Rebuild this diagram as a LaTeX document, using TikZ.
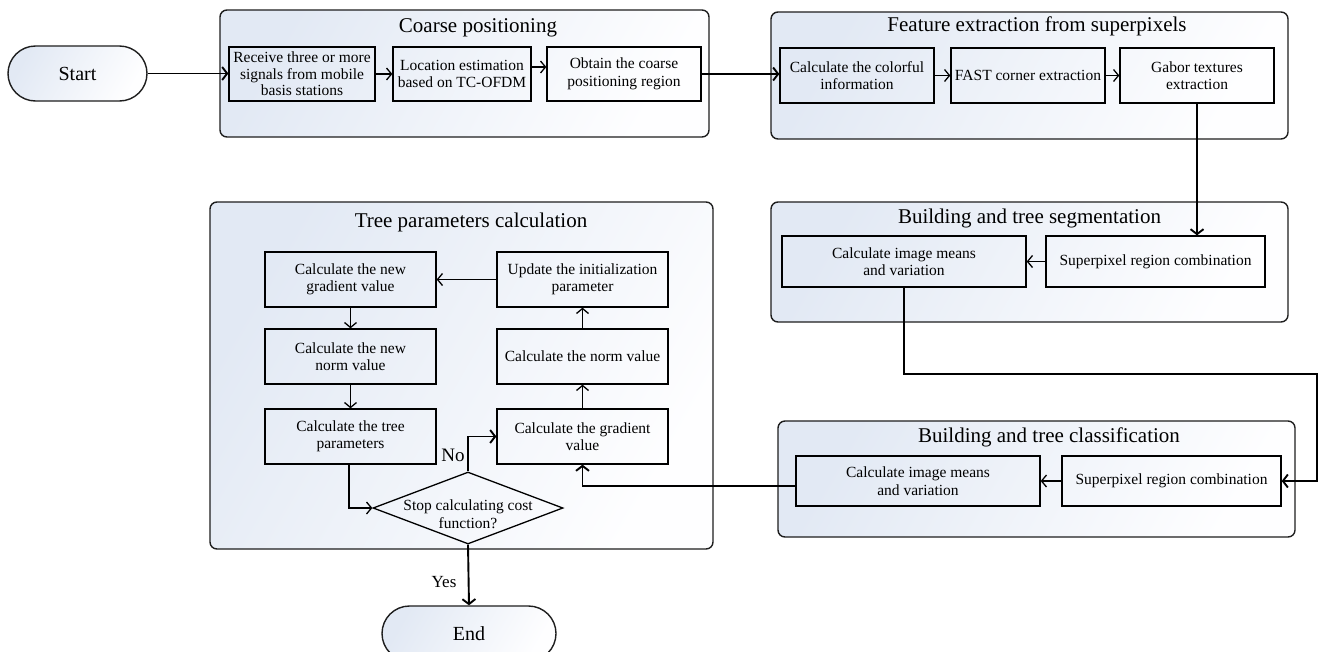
\documentclass[tikz,border=0pt]{standalone}
\usepackage{fontspec}
\setmainfont{Liberation Serif}
\usetikzlibrary{arrows.meta,shapes.misc,shapes.geometric}
\definecolor{panelA}{RGB}{226,233,244}
\definecolor{panelB}{RGB}{254,254,255}
\definecolor{edge}{RGB}{30,30,30}
\begin{document}
\begin{tikzpicture}[x=1pt,y=-1pt,
  panel/.style={draw=edge, line width=1.4pt, rounded corners=7pt, rectangle,
    left color=panelA, right color=panelB, shading angle=60, inner sep=0pt},
  stad/.style={draw=edge, line width=1.4pt, rounded rectangle,
    left color=panelA, right color=panelB, shading angle=60, inner sep=0pt,
    font=\fontsize{20pt}{22pt}\selectfont},
  ptitle/.style={anchor=base, font=\fontsize{21pt}{24pt}\selectfont, inner sep=0pt},
  stepbox/.style={draw=black, line width=1.3pt, rectangle, inner sep=1pt, align=center,
    font=\fontsize{15.5pt}{17.5pt}\selectfont},
  thinarr/.style={line width=1.3pt, -{Straight Barb[length=5pt,width=12pt]}},
  thickarr/.style={line width=1.9pt, -{Straight Barb[length=5pt,width=13pt]}},
  lab/.style={inner sep=0pt, font=\fontsize{19pt}{21pt}\selectfont}
]
\path[use as bounding box, fill=white] (0,0) rectangle (1322,651);

% panels
\node[panel, minimum width=489pt, minimum height=127pt] (pcoarse) at (464.5,73.5) {};
\node[panel, minimum width=517pt, minimum height=127pt] (pfeat) at (1029.5,75.5) {};
\node[panel, minimum width=517pt, minimum height=120pt] (pseg) at (1029.5,262) {};
\node[panel, minimum width=517pt, minimum height=116pt] (pclass) at (1036.5,479) {};
\node[panel, minimum width=503pt, minimum height=347pt] (ptree) at (461.5,375.5) {};

\node[ptitle] (tcoarse) at (478,32) {Coarse positioning};
\node[ptitle] (tfeat) at (1037,31) {Feature extraction from superpixels};
\node[ptitle] (tseg) at (1029.5,223) {Building and tree segmentation};
\node[ptitle] (tclass) at (1049,442) {Building and tree classification};
\node[ptitle] (ttree) at (471,227) {Tree parameters calculation};

% terminals
\node[stad, minimum width=139pt, minimum height=55pt] (start) at (77.5,73.5) {Start};
\node[stad, minimum width=174pt, minimum height=55pt] (end) at (469,633.5) {End};

% coarse positioning
\node[stepbox, minimum width=146pt, minimum height=54pt, font=\fontsize{15.5pt}{16.5pt}\selectfont] (recv) at (302,74) {Receive three or more\\signals from mobile\\basis stations};
\node[stepbox, minimum width=138pt, minimum height=54pt] (loc) at (462,74) {Location estimation\\based on TC-OFDM};
\node[stepbox, minimum width=154pt, minimum height=54pt] (obt) at (624,74) {Obtain the coarse\\positioning region};

% feature extraction
\node[stepbox, minimum width=154pt, minimum height=55pt] (col) at (857,75.5) {Calculate the colorful\\information};
\node[stepbox, minimum width=154pt, minimum height=55pt] (fast) at (1028,75.5) {FAST corner extraction};
\node[stepbox, minimum width=154pt, minimum height=55pt] (gab) at (1197,75.5) {Gabor textures\\extraction};

% segmentation
\node[stepbox, minimum width=244pt, minimum height=51pt] (sim) at (904,261.5) {Calculate image means\\and variation};
\node[stepbox, minimum width=219pt, minimum height=51pt] (ssp) at (1155.5,261.5) {Superpixel region combination};

% classification
\node[stepbox, minimum width=244pt, minimum height=50pt] (cim) at (918,481) {Calculate image means\\and variation};
\node[stepbox, minimum width=219pt, minimum height=50pt] (csp) at (1171.5,481) {Superpixel region combination};

% tree parameters
\node[stepbox, minimum width=171pt, minimum height=55pt] (ng) at (350.5,279.5) {Calculate the new\\gradient value};
\node[stepbox, minimum width=171pt, minimum height=55pt] (nn) at (350.5,356.5) {Calculate the new\\norm value};
\node[stepbox, minimum width=171pt, minimum height=55pt] (tp) at (350.5,436.5) {Calculate the tree\\parameters};
\node[stepbox, minimum width=171pt, minimum height=55pt] (up) at (582.5,279.5) {Update the initialization\\parameter};
\node[stepbox, minimum width=171pt, minimum height=55pt] (nv) at (582.5,356.5) {Calculate the norm value};
\node[stepbox, minimum width=171pt, minimum height=55pt] (gv) at (582.5,436.5) {Calculate the gradient\\value};

\node[draw=black, line width=1.3pt, diamond, minimum width=190pt, minimum height=72pt, inner sep=0pt] (dec) at (468,508) {};
\node[align=center, inner sep=0pt, font=\fontsize{15.5pt}{17.5pt}\selectfont] (dectext) at (468,514) {Stop calculating cost\\function?};

\node[lab] (nolab) at (453,455) {No};
\node[lab, font=\fontsize{17pt}{19pt}\selectfont] (yeslab) at (444,582) {Yes};

\coordinate (cA) at (1317,374);

% connectors
\draw[thickarr] (start.east) -- (start.east -| recv.west);
\draw[thinarr] (recv.east) -- (recv.east -| loc.west);
\draw[thinarr] ([yshift=7pt]loc.east) -- ([yshift=7pt]loc.east -| obt.west);
\draw[thickarr] (obt.east) -- (obt.east -| col.west);
\draw[thinarr] (col.east) -- (fast.west);
\draw[thinarr] (fast.east) -- (gab.west);
\draw[thickarr] (gab.south) -- (gab.south |- ssp.north);
\draw[thinarr] (ssp.west) -- (sim.east);
\draw[thickarr] (sim.south) |- (cA) |- (csp.east);
\draw[thinarr] (csp.west) -- (cim.east);
\draw[thickarr] ([yshift=-5pt]cim.west) -| (gv.south);
\draw[thinarr] (gv.north) -- (nv.south);
\draw[thinarr] (nv.north) -- (up.south);
\draw[thinarr] (up.west) -- (ng.east);
\draw[thinarr] (ng.south) -- (nn.north);
\draw[thinarr] (nn.south) -- (tp.north);
\draw[thinarr] ([xshift=-1.5pt]tp.south) |- (dec.west);
\draw[thickarr] (dec.north) |- (gv.west);
\draw[thickarr] (dec.south) -- (end.north);
\end{tikzpicture}
\end{document}
